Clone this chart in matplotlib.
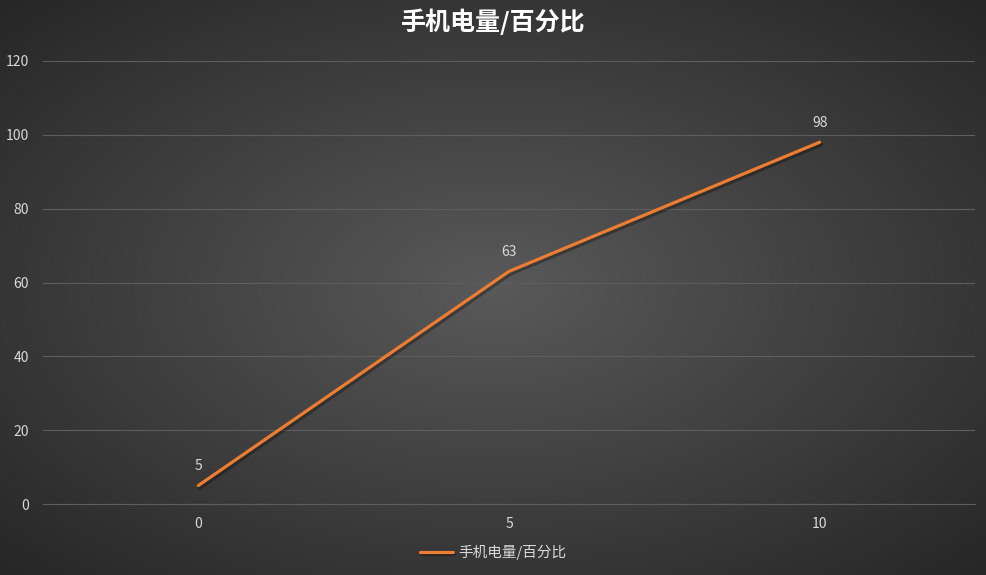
import numpy as np
import matplotlib
matplotlib.use('Agg')
import matplotlib.pyplot as plt
import matplotlib.patheffects as pe

plt.rcParams['font.family'] = ['Noto Sans CJK SC', 'DejaVu Sans']

# data
categories = ['0', '5', '10']
battery = [5, 63, 98]
series_name = '手机电量/百分比'
title = '手机电量/百分比'
yticks = [0, 20, 40, 60, 80, 100, 120]

line_color = '#ED7D31'
text_color = '#D9D9D9'

fig = plt.figure(figsize=(9.87, 5.75), dpi=100)

# radial gradient background, lighter in the middle
bg = fig.add_axes([0, 0, 1, 1], zorder=-10)
yy, xx = np.mgrid[0:575, 0:987]
r = np.sqrt(((xx - 493) / 987.0) ** 2 + ((yy - 287) / 575.0) ** 2) / 0.707
r = np.clip(r, 0, 1)
shade = 0.35 - 0.20 * r
img = np.dstack([shade, shade, shade])
bg.imshow(img, aspect='auto', interpolation='bilinear')
bg.axis('off')

ax = fig.add_axes([43 / 987, 1 - 504 / 575, (975 - 43) / 987, (504 - 61) / 575])
ax.patch.set_alpha(0)
x = np.arange(len(categories))
ax.plot(x, battery, color=line_color, lw=2.3, solid_capstyle='round', label=series_name,
        path_effects=[pe.SimpleLineShadow(offset=(1, -1.5), shadow_color='black', alpha=0.3, linewidth=3.2),
                      pe.Normal()])
for xi, v in zip(x, battery):
    ax.annotate(str(v), (xi, v), xytext=(0, 9), textcoords='offset points',
                ha='center', va='bottom', color=text_color, fontsize=10)

ax.set_xlim(-0.5, len(categories) - 0.5)
ax.set_ylim(0, 120)
ax.set_yticks(yticks)
ax.set_xticks(x)
ax.set_xticklabels(categories)
ax.grid(axis='y', color='#5e5e5e', lw=0.8)
ax.set_axisbelow(True)
for s in ['top', 'left', 'right']:
    ax.spines[s].set_visible(False)
ax.spines['bottom'].set_color('#5e5e5e')
ax.spines['bottom'].set_linewidth(0.8)
ax.tick_params(length=0, colors=text_color, labelsize=10)
ax.tick_params(axis='x', pad=9)
ax.tick_params(axis='y', pad=10)

fig.text(0.5, 1 - 22 / 575, title, ha='center', va='center', color='white',
         fontsize=18, fontweight='bold')

leg = fig.legend(loc='center', bbox_to_anchor=(0.5, 1 - 552 / 575), frameon=False,
                 fontsize=10.5, handlelength=2.2, handletextpad=0.4)
for t in leg.get_texts():
    t.set_color(text_color)

fig.savefig('out.png', dpi=100)
